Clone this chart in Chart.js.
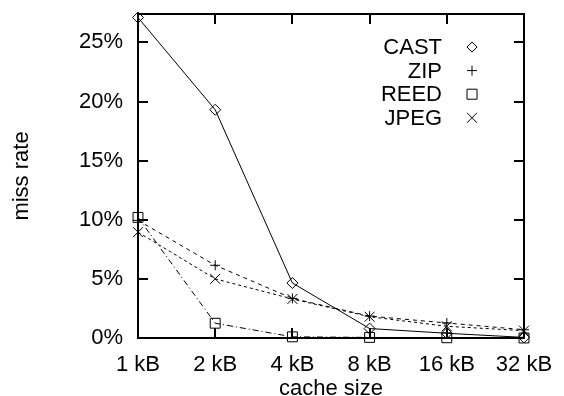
<!DOCTYPE html>
<html>
<head>
<meta charset="utf-8">
<script src="https://cdn.jsdelivr.net/npm/chart.js@4"></script>
<style>
  html, body { margin: 0; padding: 0; background: #fff; }
  #wrap { width: 564px; height: 396px; }
</style>
</head>
<body>
<div id="wrap"><canvas id="myChart" width="564" height="396"></canvas></div>
<script>
let sizes = ['1 kB', '2 kB', '4 kB', '8 kB', '16 kB', '32 kB']
let cast = [27.1, 19.3, 4.65, 0.8, 0.4, 0.05]
let zip = [9.95, 6.15, 3.35, 1.85, 1.27, 0.7]
let reed = [10.2, 1.25, 0.1, 0.05, 0.02, 0.0]
let jpeg = [8.95, 5.0, 3.3, 1.8, 0.99, 0.62]
let yTicks = [0, 5, 10, 15, 20, 25]

const font = 'Liberation Sans, Arial, Helvetica, sans-serif'

// gnuplot style ticks on the inside of the frame, plus the frame itself
const frame = {
  id: 'frame',
  afterDatasetsDraw(chart) {
    const { ctx, chartArea: a, scales } = chart
    ctx.save()
    ctx.strokeStyle = '#000'
    ctx.lineWidth = 2
    ctx.beginPath()
    yTicks.forEach(v => {
      let y = Math.round(scales.y.getPixelForValue(v))
      if (v === 0) return
      ctx.moveTo(a.left, y)
      ctx.lineTo(a.left + 10, y)
      ctx.moveTo(a.right, y)
      ctx.lineTo(a.right - 10, y)
    })
    sizes.forEach((s, i) => {
      if (i === 0 || i === sizes.length - 1) return
      let x = Math.round(scales.x.getPixelForValue(i))
      ctx.moveTo(x, a.bottom)
      ctx.lineTo(x, a.bottom - 10)
      ctx.moveTo(x, a.top)
      ctx.lineTo(x, a.top + 10)
    })
    ctx.stroke()
    ctx.strokeRect(a.left, a.top, a.right - a.left, a.bottom - a.top)
    ctx.restore()
  }
}

function marker(ctx, style, x, y) {
  ctx.beginPath()
  if (style === 'rectRot') {
    ctx.moveTo(x, y - 5); ctx.lineTo(x + 5, y); ctx.lineTo(x, y + 5); ctx.lineTo(x - 5, y); ctx.closePath()
  } else if (style === 'cross') {
    ctx.moveTo(x - 5, y); ctx.lineTo(x + 5, y); ctx.moveTo(x, y - 5); ctx.lineTo(x, y + 5)
  } else if (style === 'rect') {
    ctx.rect(x - 5, y - 5, 10, 10)
  } else {
    ctx.moveTo(x - 5, y - 5); ctx.lineTo(x + 5, y + 5); ctx.moveTo(x + 5, y - 5); ctx.lineTo(x - 5, y + 5)
  }
  ctx.stroke()
}

// legend as in gnuplot: label right aligned, symbol on its right
const keyBox = {
  id: 'keyBox',
  afterDraw(chart) {
    const ctx = chart.ctx
    ctx.save()
    ctx.font = '22px ' + font
    ctx.fillStyle = '#000'
    ctx.strokeStyle = '#000'
    ctx.lineWidth = 1
    ctx.textAlign = 'right'
    ctx.textBaseline = 'middle'
    chart.data.datasets.forEach((ds, i) => {
      let y = 47 + i * 23.6
      ctx.fillText(ds.label, 442, y + 1)
      marker(ctx, ds.pointStyle, 472, y)
    })
    ctx.restore()
  }
}

function series(label, data, style, radius, dash) {
  return {
    label: label,
    data: data,
    borderColor: '#000',
    borderWidth: 1,
    borderDash: dash,
    pointStyle: style,
    pointRadius: radius,
    pointBorderColor: '#000',
    pointBackgroundColor: 'rgba(0,0,0,0)',
    pointBorderWidth: 1,
    tension: 0,
    fill: false,
    clip: false
  }
}

const ctx = document.getElementById('myChart').getContext('2d')
const myChart = new Chart(ctx, {
  type: 'line',
  data: {
    labels: sizes,
    datasets: [
      series('CAST', cast, 'rectRot', 5.5, []),
      series('ZIP', zip, 'cross', 5, [4, 4]),
      series('REED', reed, 'rect', 7, [6, 3, 1, 3]),
      series('JPEG', jpeg, 'crossRot', 7, [3, 3])
    ]
  },
  options: {
    responsive: false,
    animation: false,
    layout: { padding: { top: 14, right: 40, left: 0, bottom: 0 } },
    scales: {
      x: {
        type: 'category',
        offset: false,
        grid: { display: false, drawTicks: false },
        border: { display: false },
        ticks: { color: '#000', font: { family: font, size: 22 }, padding: 14, maxRotation: 0, autoSkip: false },
        title: { display: true, text: 'cache size', color: '#000', font: { family: font, size: 22, lineHeight: 1 }, padding: { top: 0, bottom: -4 } },
        afterFit: scale => {
          scale.height = 58
          scale.paddingLeft = 0
          scale.paddingRight = 0
        }
      },
      y: {
        min: 0,
        max: 27.4,
        grid: { display: false, drawTicks: false },
        border: { display: false },
        ticks: {
          stepSize: 5,
          includeBounds: false,
          color: '#000',
          padding: 15,
          font: { family: font, size: 22 },
          callback: v => v + '%'
        },
        title: { display: true, text: 'miss rate', color: '#000', font: { family: font, size: 22 }, padding: { top: 9, bottom: 0 } },
        afterFit: scale => {
          scale.width = 138
          scale.paddingTop = 0
          scale.paddingBottom = 0
        }
      }
    },
    plugins: {
      legend: { display: false },
      tooltip: { enabled: false }
    }
  },
  plugins: [frame, keyBox]
})
</script>
</body>
</html>
